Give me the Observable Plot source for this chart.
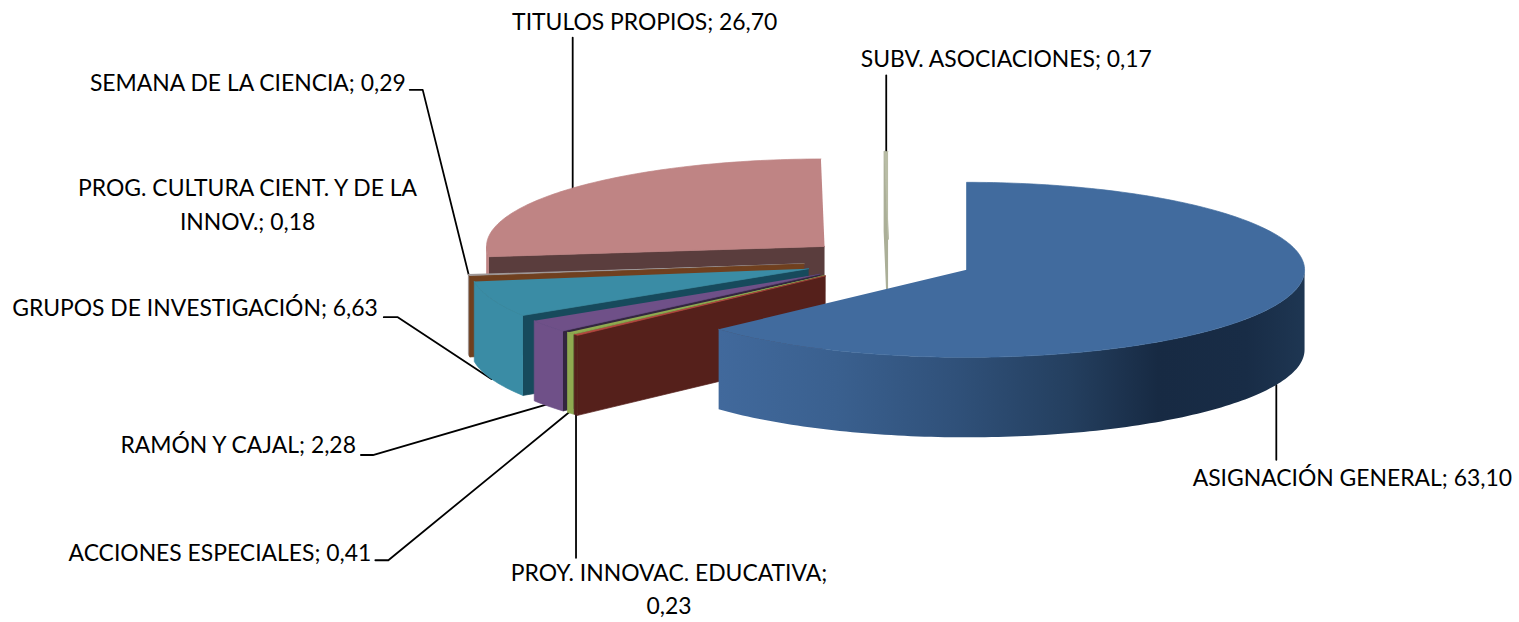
<!DOCTYPE html>
<html>
<head>
<meta charset="utf-8">
<script src="https://cdn.jsdelivr.net/npm/d3@7"></script>
<script src="https://cdn.jsdelivr.net/npm/@observablehq/plot@0.6"></script>
<style>
html,body{margin:0;padding:0;background:#fff;}
svg{display:block;}
</style>
</head>
<body>
<div id="chart"></div>
<script>
// Data, clockwise from twelve o'clock
const categories = ["ASIGNACIÓN GENERAL","PROY. INNOVAC. EDUCATIVA","ACCIONES ESPECIALES","RAMÓN Y CAJAL","GRUPOS DE INVESTIGACIÓN","PROG. CULTURA CIENT. Y DE LA INNOV.","SEMANA DE LA CIENCIA","TITULOS PROPIOS","SUBV. ASOCIACIONES"];
const values = [63.10,0.23,0.41,2.28,6.63,0.18,0.29,26.70,0.17];
const labelTexts = ["ASIGNACIÓN GENERAL; 63,10","PROY. INNOVAC. EDUCATIVA;\n0,23","ACCIONES ESPECIALES; 0,41","RAMÓN Y CAJAL; 2,28","GRUPOS DE INVESTIGACIÓN; 6,63","PROG. CULTURA CIENT. Y DE LA\nINNOV.; 0,18","SEMANA DE LA CIENCIA; 0,29","TITULOS PROPIOS; 26,70","SUBV. ASOCIACIONES; 0,17"];

// Styles
const topColors  = ["#416B9E","#B5463F","#8FAA50","#6F5088","#3A8CA5","#70401F","#A09A9A","#BF8484","#B9BDA6"];
const wallColors = ["#416B9E","#55201B","#6E8240","#33263F","#174A5C","#70401F","#A09A9A","#5A3D3D","#ABAF98"];
const sideColors = ["url(#blueWall)","#55201B","#8FAA50","#6F5088","#3A8CA5","#70401F","#A09A9A","#BF8484","#B9BDA6"];
const blueStops = [[0,"#41699C"],[0.2,"#3A608F"],[0.4,"#30517A"],[0.6,"#243F5F"],[0.75,"#172A43"],[0.9,"#182C46"],[1,"#1E3652"]];

// Pie layout
const W = 1519, H = 622;
const cx = 888, cy = 260.5, rx = 338, ry = 87.5, depth = 80, explode = 0.252;
const drawOrder = [7,8,6,5,4,3,2,1,0];
const soften = "blur(0.5px)";

const arcs = d3.pie().sort(null).value(d => d)(values);
const wedges = arcs.map((a, i) => {
  const mid = (a.startAngle + a.endAngle) / 2;
  const ax = cx + explode * rx * Math.sin(mid);
  const ay = cy - explode * ry * Math.cos(mid);
  const pt = (t, drop = 0) => [ax + rx * Math.sin(t), ay - ry * Math.cos(t) + drop];
  return {i, a0: a.startAngle, a1: a.endAngle, mid, apex: [ax, ay], pt};
});

function arcPts(w, t0, t1, drop) {
  const n = Math.max(2, Math.ceil((t1 - t0) / 0.02));
  return d3.range(n + 1).map(k => w.pt(t0 + (t1 - t0) * k / n, drop));
}

function facesOf(w) {
  const faces = [];
  const [ax, ay] = w.apex;
  // radial wall at the start angle, facing the viewer on the left half
  if (w.a0 > Math.PI) {
    faces.push({pts: [[ax, ay], w.pt(w.a0), w.pt(w.a0, depth), [ax, ay + depth]], fill: wallColors[w.i], sw: w.i === 8 ? 1.6 : 0.7});
  }
  // outer wall, front half only
  const s0 = Math.max(w.a0, Math.PI / 2), s1 = Math.min(w.a1, 3 * Math.PI / 2);
  if (s1 > s0) {
    faces.push({pts: [...arcPts(w, s0, s1, 0), ...arcPts(w, s0, s1, depth).reverse()], fill: sideColors[w.i], sw: 0.7});
  }
  // top face
  faces.push({pts: [[ax, ay], ...arcPts(w, w.a0, w.a1, 0)], fill: topColors[w.i], sw: 0.7});
  return faces;
}

const faceMarks = drawOrder.flatMap(i => facesOf(wedges[i])).map(f =>
  Plot.line(f.pts, {
    x: d => d[0], y: d => d[1], curve: "linear",
    fill: f.fill,
    stroke: f.fill.startsWith("url") ? "none" : f.fill,
    strokeWidth: f.sw,
    imageFilter: soften
  })
);

// Leader lines and label placement, relative to each wedge's outer midpoint
const placement = [
  {drop: depth, path: [[0,0],[0,75]], label: [76,91], anchor: "middle"},
  {drop: depth, path: [[0,-2],[0,143]], label: [93,172], anchor: "middle"},
  {drop: depth, path: [[0,-2],[-182,147],[-195,147]], label: [-199,137], anchor: "end"},
  {drop: depth, path: [[0,-2],[-175,49],[-187,49]], label: [-192,36], anchor: "end"},
  {drop: depth, path: [[0,0],[-94,-62],[-108,-62]], label: [-114,-74], anchor: "end"},
  {drop: 0, path: [], label: [-222,-74], anchor: "middle"},
  {drop: 0, path: [[0,0],[-46,-185],[-59,-185]], label: [-63,-194], anchor: "end"},
  {drop: 0, path: [[2,1],[2,-151]], label: [74,-169], anchor: "middle"},
  {drop: 0, path: [[0,0],[0,-76]], label: [120,-95], anchor: "middle"}
];

const anchors = wedges.map((w, i) => w.pt(w.mid, placement[i].drop));

const leaderMarks = placement.filter(p => p.path.length).map(p => {
  const i = placement.indexOf(p);
  return Plot.line(p.path.map(([dx, dy]) => [anchors[i][0] + dx, anchors[i][1] + dy]), {
    x: d => d[0], y: d => d[1], stroke: "#000", strokeWidth: 1.8, curve: "linear", imageFilter: "blur(0.3px)"
  });
});

const labelRows = placement.map((p, i) => ({
  x: anchors[i][0] + p.label[0], y: anchors[i][1] + p.label[1], text: labelTexts[i], anchor: p.anchor
}));
const labelMarks = ["start","middle","end"].map(anchor =>
  Plot.text(labelRows.filter(d => d.anchor === anchor), {
    x: "x", y: "y", text: "text", textAnchor: anchor, lineAnchor: "middle",
    lineHeight: 1.45, fontSize: 22.9, fill: "#000"
  })
);

// Gradient for the big slice's outer wall
const gradient = () => {
  const defs = d3.create("svg:defs");
  const g = defs.append("linearGradient").attr("id", "blueWall").attr("x1", 0).attr("x2", 1).attr("y1", 0).attr("y2", 0);
  blueStops.forEach(([o, c]) => g.append("stop").attr("offset", o).attr("stop-color", c));
  return defs.node();
};

const chart = Plot.plot({
  width: W, height: H,
  margin: 0,
  x: {domain: [0, W], range: [0, W], axis: null},
  y: {domain: [0, H], range: [0, H], axis: null},
  style: {background: "#fff", fontFamily: "Lato, 'Open Sans', sans-serif", overflow: "visible"},
  marks: [gradient, ...leaderMarks, ...faceMarks, ...labelMarks]
});
document.getElementById("chart").append(chart);
</script>
</body>
</html>
